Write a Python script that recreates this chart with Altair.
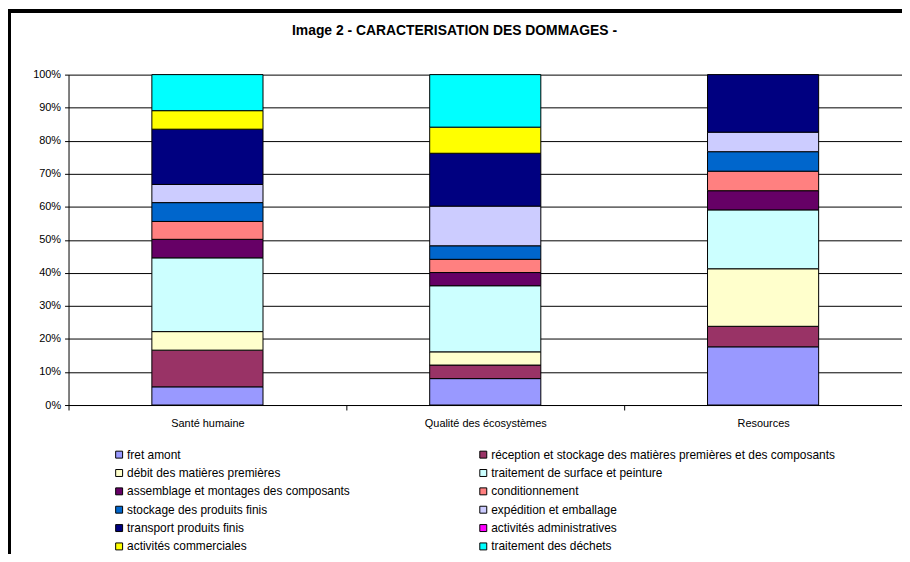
import altair as alt
import pandas as pd

categories = ["Santé humaine", "Qualité des écosystèmes", "Resources"]
steps = [
    "fret amont",
    "réception et stockage des matières premières et des composants",
    "débit des matières premières",
    "traitement de surface et peinture",
    "assemblage et montages des composants",
    "conditionnement",
    "stockage des produits finis",
    "expédition et emballage",
    "transport produits finis",
    "activités administratives",
    "activités commerciales",
    "traitement des déchets",
]
colors = ["#9999FF", "#993366", "#FFFFCC", "#CCFFFF", "#660066", "#FF8080",
          "#0066CC", "#CCCCFF", "#000080", "#FF00FF", "#FFFF00", "#00FFFF"]

sante = [5.5, 11.1, 5.6, 22.3, 5.6, 5.4, 5.7, 5.5, 16.7, 0.0, 5.6, 10.9]
qualite = [8.0, 4.1, 4.0, 20.0, 4.0, 4.0, 4.1, 12.0, 16.0, 0.0, 7.9, 15.9]
resources = [17.6, 6.2, 17.4, 17.8, 5.8, 5.9, 5.9, 5.9, 17.4, 0.0, 0.0, 0.0]

rows = []
for cat, vals in zip(categories, [sante, qualite, resources]):
    for i, (s, v) in enumerate(zip(steps, vals)):
        rows.append({"cat": cat, "step": s, "idx": i, "value": v})
df = pd.DataFrame(rows)

FONT = "Liberation Sans"

bars = alt.Chart(df).transform_filter("datum.value > 0").mark_bar(
    size=112, stroke="black", strokeWidth=1
).encode(
    x=alt.X("cat:N", sort=categories, title=None,
            scale=alt.Scale(paddingInner=0, paddingOuter=0),
            axis=alt.Axis(labelAngle=0, labelFontSize=11, labelFont=FONT,
                          labelColor="#000", labelPadding=8, tickBand="extent",
                          tickSize=5, tickColor="#000", domainColor="#000",
                          grid=False)),
    y=alt.Y("value:Q", stack="normalize", title=None,
            scale=alt.Scale(domain=[0, 1]),
            axis=alt.Axis(format=".0%", values=[i / 10 for i in range(11)],
                          labelFontSize=11, labelFont=FONT, labelColor="#000",
                          tickSize=4, tickColor="#000", domainColor="#000",
                          gridColor="#000", gridOpacity=1, labelPadding=4)),
    color=alt.Color("step:N", scale=alt.Scale(domain=steps, range=colors),
                    sort=steps, title=None,
                    legend=alt.Legend(orient="none", legendX=45, legendY=377,
                                      direction="horizontal",
                                      columns=2, gridAlign="each",
                                      columnPadding=128, rowPadding=6.5,
                                      symbolType="square", symbolSize=49,
                                      symbolStrokeColor="#000",
                                      symbolStrokeWidth=1, symbolOpacity=1,
                                      labelFontSize=12, labelFont=FONT,
                                      labelColor="#000", labelOffset=2,
                                      labelLimit=500, padding=0)),
    order=alt.Order("idx:Q", sort="ascending"),
)

frame_left = alt.Chart(df).mark_rule(color="#000", strokeWidth=3).encode(
    x=alt.value(-60), y=alt.value(-64), y2=alt.value(490))
frame_top = alt.Chart(df).mark_rule(color="#000", strokeWidth=3).encode(
    x=alt.value(-61), x2=alt.value(845), y=alt.value(-64))

chart = alt.layer(bars, frame_left, frame_top).properties(
    width=840, height=333,
    autosize=alt.AutoSizeParams(type="none"),
    padding={"left": 61, "top": 65, "right": 0, "bottom": 148},
    background="white",
    title=alt.TitleParams("Image 2 - CARACTERISATION DES DOMMAGES -",
                          anchor="middle", fontSize=14, fontWeight="bold",
                          font=FONT, color="#000", offset=-29, dx=-31),
).configure_view(stroke=None)

chart.save("out.html", embed_options={"renderer": "svg", "actions": False})
